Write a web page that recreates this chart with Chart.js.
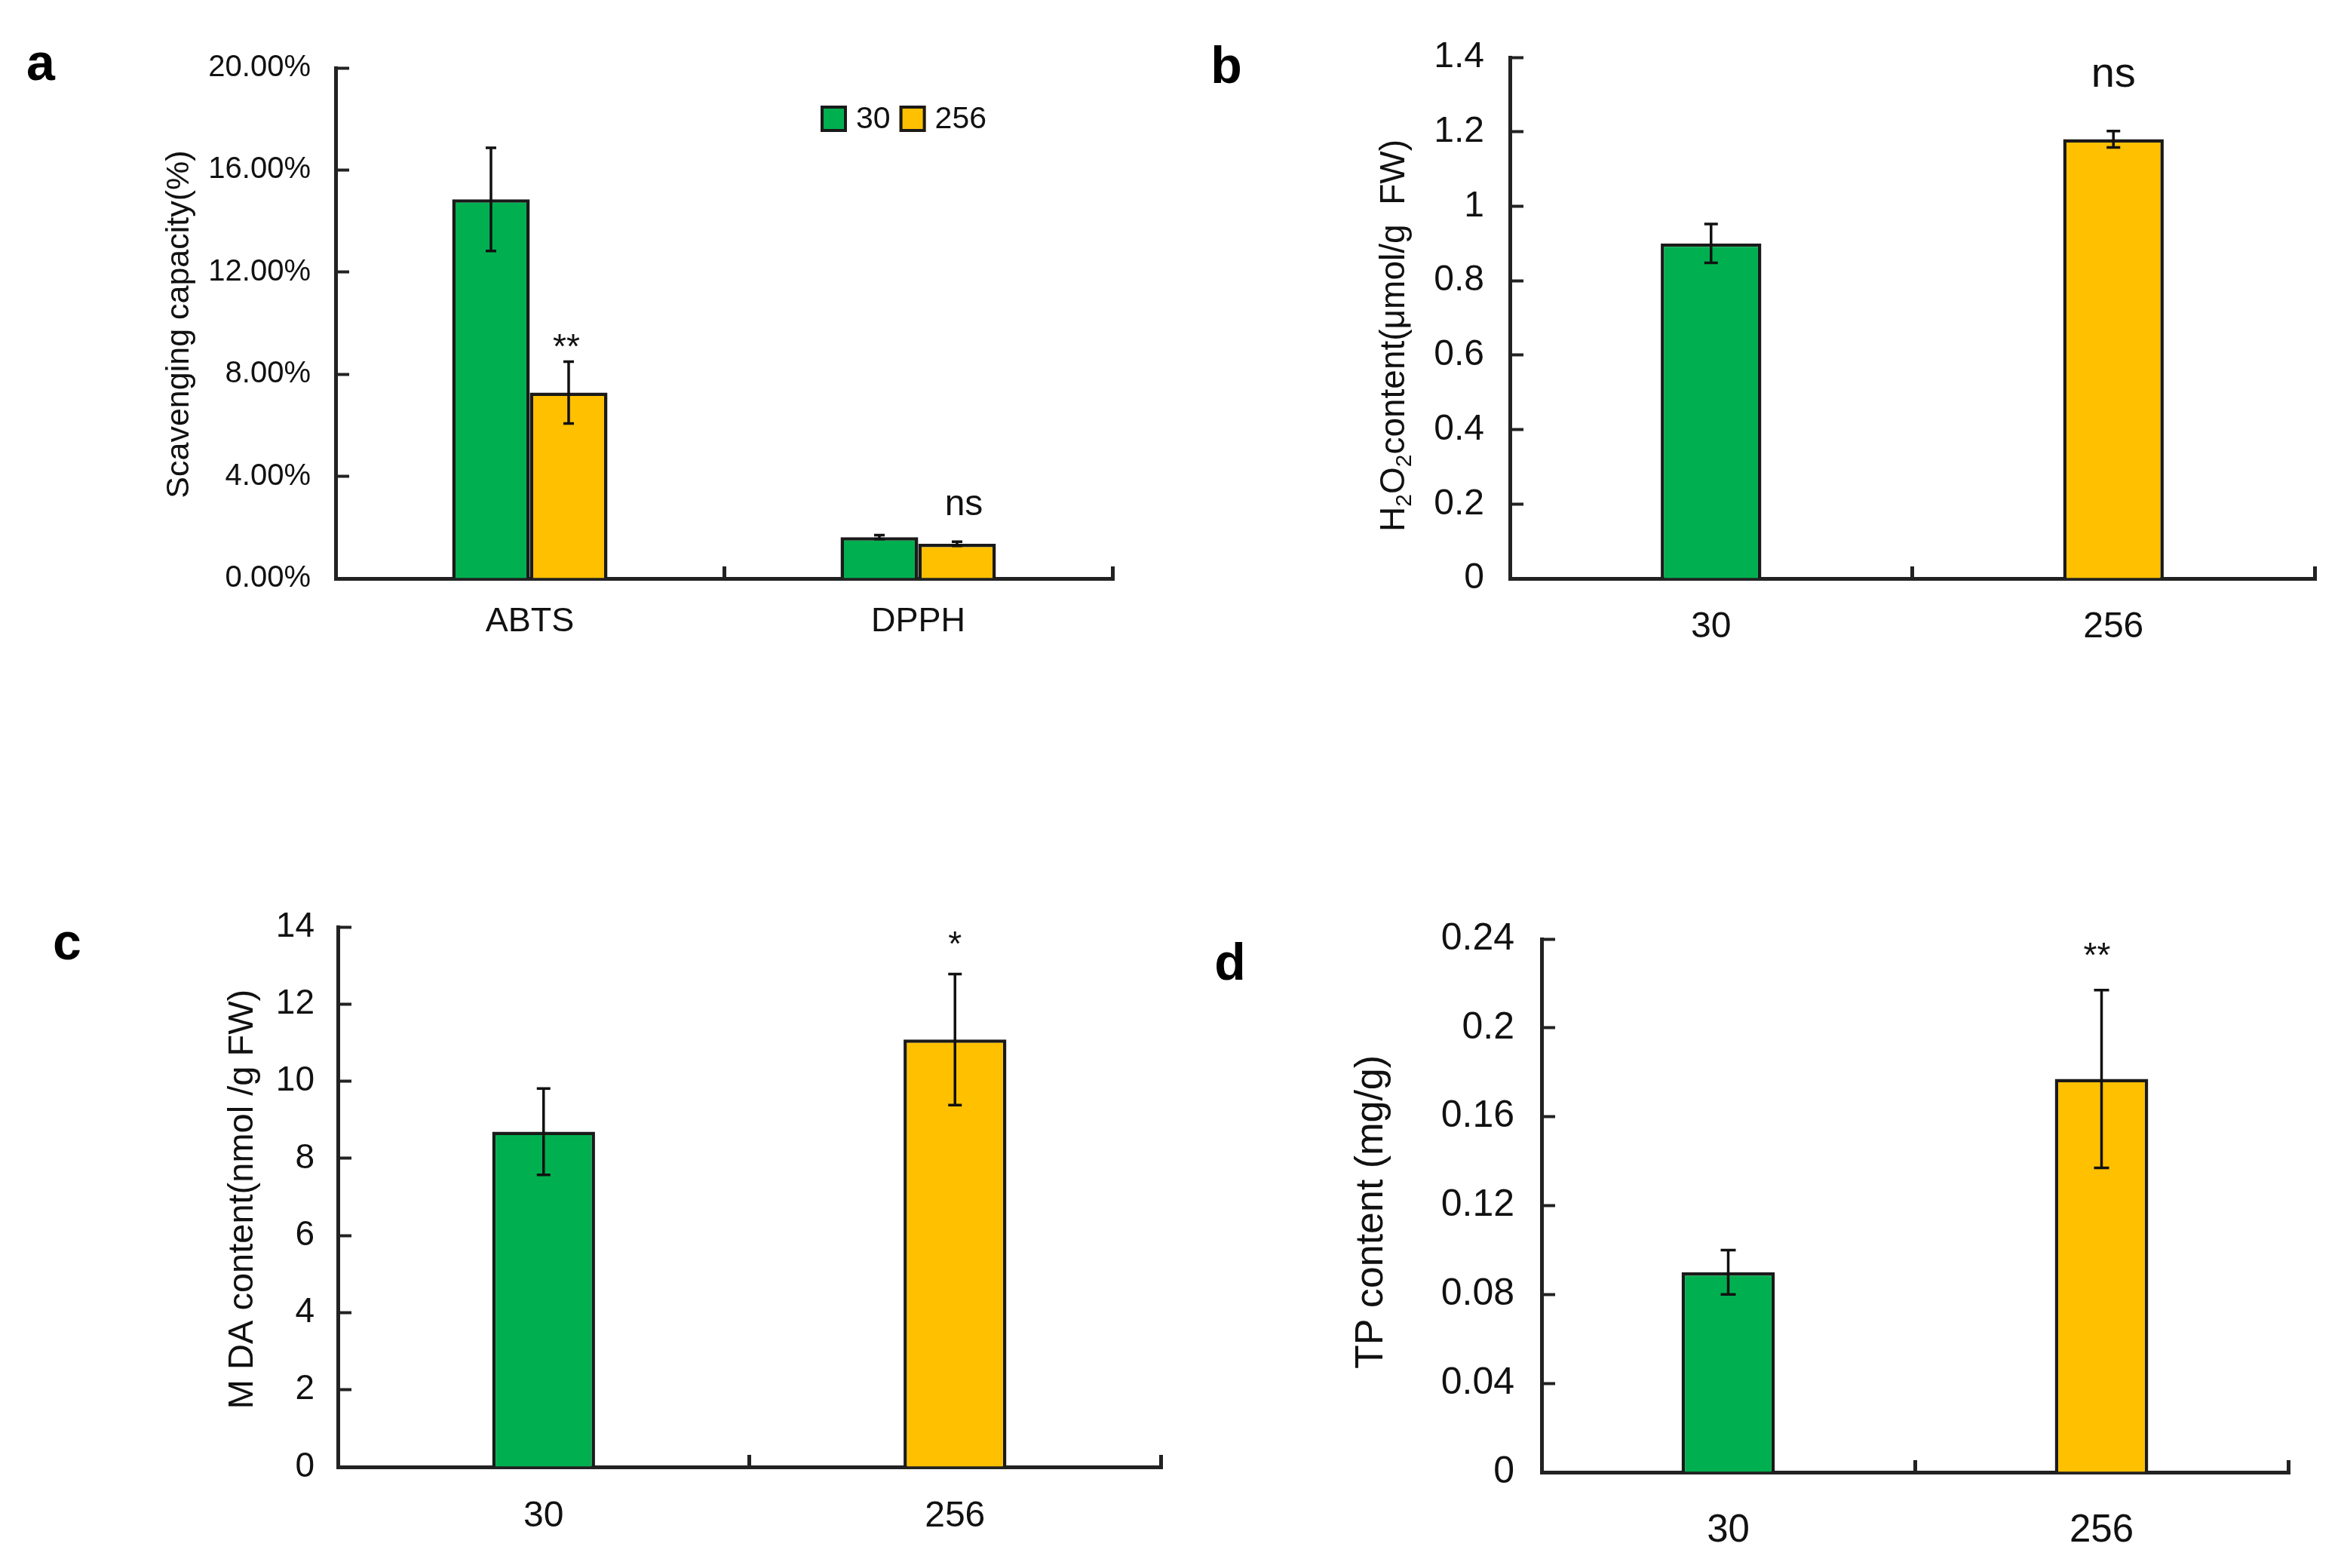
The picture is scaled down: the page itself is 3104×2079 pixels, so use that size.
<!DOCTYPE html>
<html><head><meta charset="utf-8">
<script src="https://cdn.jsdelivr.net/npm/chart.js@4/dist/chart.umd.min.js"></script>
<style>
html,body{margin:0;padding:0;background:#fff;}
body{width:3104px;height:2079px;position:relative;overflow:hidden;}
canvas{position:absolute;}
</style></head><body>
<canvas id="ca" width="1552" height="1040" style="left:0;top:0"></canvas>
<canvas id="cb" width="1552" height="1040" style="left:1552px;top:0"></canvas>
<canvas id="cc" width="1552" height="1039" style="left:0;top:1040px"></canvas>
<canvas id="cd" width="1552" height="1039" style="left:1552px;top:1040px"></canvas>
<script>
// ---------------- data ----------------
const seriesNames = ['30', '256'];

const catsA = ['ABTS', 'DPPH'];
const a30 = [14.85, 1.62];
const a30Err = [2.02, 0.08];
const a256 = [7.28, 1.36];
const a256Err = [1.21, 0.08];
const sigA = ['**', 'ns'];
const ticksA = [0, 4, 8, 12, 16, 20];

const catsB = ['30', '256'];
const bVals = [0.90, 1.18];
const bErr = [0.052, 0.022];
const sigB = ['', 'ns'];
const ticksB = [0, 0.2, 0.4, 0.6, 0.8, 1, 1.2, 1.4];

const catsC = ['30', '256'];
const cVals = [8.69, 11.08];
const cErr = [1.12, 1.70];
const sigC = ['', '*'];
const ticksC = [0, 2, 4, 6, 8, 10, 12, 14];

const catsD = ['30', '256'];
const dVals = [0.090, 0.177];
const dErr = [0.010, 0.040];
const sigD = ['', '**'];
const ticksD = [0, 0.04, 0.08, 0.12, 0.16, 0.2, 0.24];

// ---------------- styles ----------------
const GREEN = '#00B050', ORANGE = '#FFC000', EDGE = '#1a1a1a', AX = '#222';
const NARROW = "'Liberation Sans Narrow','Liberation Sans',Arial,sans-serif";
const SANS = "'Liberation Sans',Arial,sans-serif";

const panelPlugin = {
  id: 'panel',
  afterDatasetsDraw(chart, args, o) {
    const ctx = chart.ctx, ys = chart.scales.y;
    ctx.save();
    chart.data.datasets.forEach((ds, di) => {
      if (!ds.errors) return;
      const meta = chart.getDatasetMeta(di);
      meta.data.forEach((bar, i) => {
        const v = ds.data[i], e = ds.errors[i];
        const t = ys.getPixelForValue(v + e), b = ys.getPixelForValue(v - e);
        ctx.strokeStyle = '#111'; ctx.lineWidth = o.errWidth; ctx.lineCap = 'butt';
        ctx.beginPath();
        ctx.moveTo(bar.x, t); ctx.lineTo(bar.x, b);
        ctx.moveTo(bar.x - o.cap, t); ctx.lineTo(bar.x + o.cap, t);
        ctx.moveTo(bar.x - o.cap, b); ctx.lineTo(bar.x + o.cap, b);
        ctx.stroke();
      });
    });
    // significance labels
    const sds = chart.data.datasets[o.sigDataset];
    const smeta = chart.getDatasetMeta(o.sigDataset);
    ctx.fillStyle = '#111'; ctx.textAlign = 'center'; ctx.textBaseline = 'alphabetic';
    o.sig.forEach((s, i) => {
      if (!s) return;
      const bar = smeta.data[i];
      const top = ys.getPixelForValue(sds.data[i] + sds.errors[i]);
      const isNs = s === 'ns';
      ctx.font = (isNs ? o.nsSize : o.starSize) + 'px ' + SANS;
      ctx.fillText(s, bar.x + (o.sigDx ? o.sigDx[i] : 0), top - o.sigLift[i]);
    });
    ctx.restore();
  },
  afterDraw(chart, args, o) {
    const ctx = chart.ctx;
    ctx.save();
    // panel letter
    ctx.fillStyle = '#000'; ctx.textAlign = 'center'; ctx.textBaseline = 'alphabetic';
    ctx.font = 'bold ' + o.letterSize + 'px ' + SANS;
    ctx.fillText(o.letter, o.letterX, o.letterY);
    // y title (rotated, with optional subscripts)
    ctx.translate(o.titleX, o.titleY);
    ctx.rotate(-Math.PI / 2);
    ctx.fillStyle = '#111'; ctx.textBaseline = 'middle'; ctx.textAlign = 'left';
    const main = o.titleSize + 'px ' + SANS, sub = Math.round(o.titleSize * 0.65) + 'px ' + SANS;
    let total = 0;
    o.title.forEach(p => { ctx.font = p.sub ? sub : main; total += ctx.measureText(p.t).width; });
    let x = -total / 2;
    o.title.forEach(p => {
      ctx.font = p.sub ? sub : main;
      ctx.fillText(p.t, x, p.sub ? o.titleSize * 0.3 : 0);
      x += ctx.measureText(p.t).width;
    });
    ctx.restore();
    // legend
    if (o.legend) {
      const L = o.legend;
      ctx.save();
      let lx = L.x;
      ctx.font = L.size + 'px ' + NARROW; ctx.textBaseline = 'middle'; ctx.textAlign = 'left';
      chart.data.datasets.forEach(ds => {
        ctx.fillStyle = ds.backgroundColor;
        ctx.fillRect(lx, L.y, L.box, L.box);
        ctx.strokeStyle = EDGE; ctx.lineWidth = 4;
        ctx.strokeRect(lx + 2, L.y + 2, L.box - 4, L.box - 4);
        lx += L.box + L.gap;
        ctx.fillStyle = '#111';
        ctx.fillText(ds.label, lx, L.y + L.box / 2 + 1);
        lx += ctx.measureText(ds.label).width + L.gap2;
      });
      ctx.restore();
    }
  }
};

function makeChart(id, cfg) {
  const yTicks = cfg.yTicks;
  return new Chart(document.getElementById(id), {
    type: 'bar',
    data: { labels: cfg.labels, datasets: cfg.datasets },
    plugins: [panelPlugin],
    options: {
      responsive: false, maintainAspectRatio: false, animation: false, devicePixelRatio: 1,
      layout: { padding: { left: 0, top: cfg.area.top, right: cfg.area.right, bottom: 0 } },
      datasets: { bar: { categoryPercentage: cfg.catPct, barPercentage: 1, borderWidth: 4.5, borderColor: EDGE } },
      plugins: { legend: { display: false }, tooltip: { enabled: false }, panel: cfg.panel },
      scales: {
        x: {
          z: 1,
          border: { display: true, color: AX, width: 5 },
          grid: { display: true, drawOnChartArea: false, offset: true, tickLength: -16, tickWidth: 5, tickColor: AX },
          ticks: { color: '#111', padding: cfg.xPad, font: { family: SANS, size: cfg.xSize, lineHeight: 1 } },
          afterFit(s) { s.height = cfg.area.xh; }
        },
        y: {
          min: yTicks[0], max: yTicks[yTicks.length - 1],
          border: { display: true, color: AX, width: 5 },
          grid: { display: true, drawOnChartArea: false, tickLength: -18, tickWidth: 4, tickColor: AX },
          afterBuildTicks(s) { s.ticks = yTicks.map(v => ({ value: v })); },
          ticks: { color: '#111', padding: cfg.yPad, autoSkip: false, callback: cfg.fmt,
                   font: { family: NARROW, size: cfg.ySize, lineHeight: 1 } },
          afterFit(s) { s.width = cfg.area.left; }
        }
      }
    }
  });
}

const fmtPlain = v => String(+(+v).toFixed(3));

makeChart('ca', {
  labels: catsA,
  datasets: [
    { label: seriesNames[0], data: a30, errors: a30Err, backgroundColor: GREEN },
    { label: seriesNames[1], data: a256, errors: a256Err, backgroundColor: ORANGE }
  ],
  catPct: 0.4, yTicks: ticksA, fmt: v => (+v).toFixed(2) + '%',
  area: { left: 445, top: 90, right: 77, xh: 273 },
  xPad: 51, xSize: 45, yPad: 51, ySize: 40,
  panel: { letter: 'a', letterX: 54, letterY: 106, letterSize: 68,
           title: [{ t: 'Scavenging capacity(%)' }], titleX: 238, titleY: 430, titleSize: 43,
           sig: sigA, sigDataset: 1, sigLift: [5, 35], sigDx: [-3, 9], starSize: 46, nsSize: 48,
           errWidth: 3.5, cap: 7,
           legend: { x: 1088, y: 140, box: 35, gap: 12, gap2: 12, size: 41 } }
});

makeChart('cb', {
  labels: catsB,
  datasets: [{ label: 'H2O2', data: bVals, errors: bErr, backgroundColor: [GREEN, ORANGE] }],
  catPct: 0.25, yTicks: ticksB, fmt: fmtPlain,
  area: { left: 450, top: 55, right: 35, xh: 273 },
  xPad: 57, xSize: 48, yPad: 52, ySize: 48,
  panel: { letter: 'b', letterX: 74, letterY: 110, letterSize: 68,
           title: [{ t: 'H' }, { t: '2', sub: true }, { t: 'O' }, { t: '2', sub: true }, { t: 'content(μmol/g  FW)' }],
           titleX: 297, titleY: 445, titleSize: 46,
           sig: sigB, sigDataset: 0, sigLift: [0, 59], starSize: 46, nsSize: 56,
           errWidth: 3.5, cap: 9 }
});

makeChart('cc', {
  labels: catsC,
  datasets: [{ label: 'MDA', data: cVals, errors: cErr, backgroundColor: [GREEN, ORANGE] }],
  catPct: 0.25, yTicks: ticksC, fmt: fmtPlain,
  area: { left: 448, top: 189, right: 13, xh: 134 },
  xPad: 58, xSize: 48, yPad: 49, ySize: 46,
  panel: { letter: 'c', letterX: 89, letterY: 232, letterSize: 68,
           title: [{ t: 'M DA content(nmol /g FW)' }], titleX: 322, titleY: 550, titleSize: 47,
           sig: sigC, sigDataset: 0, sigLift: [0, 24], starSize: 46, nsSize: 56,
           errWidth: 3.5, cap: 9 }
});

makeChart('cd', {
  labels: catsD,
  datasets: [{ label: 'TP', data: dVals, errors: dErr, backgroundColor: [GREEN, ORANGE] }],
  catPct: 0.25, yTicks: ticksD, fmt: fmtPlain,
  area: { left: 492, top: 205, right: 70, xh: 127 },
  xPad: 68, xSize: 51, yPad: 54, ySize: 50,
  panel: { letter: 'd', letterX: 79, letterY: 259, letterSize: 68,
           title: [{ t: 'TP content (mg/g)' }], titleX: 267, titleY: 567, titleSize: 52,
           sig: sigD, sigDataset: 0, sigLift: [0, 31], sigDx: [0, -6], starSize: 46, nsSize: 56,
           errWidth: 3.5, cap: 10 }
});
</script>
</body></html>
